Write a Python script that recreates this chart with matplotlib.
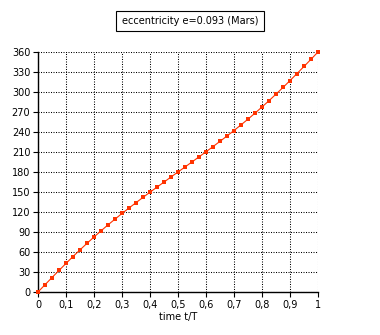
import matplotlib.pyplot as plt
from matplotlib.ticker import FuncFormatter

# time as fraction of the orbital period, true anomaly in degrees
t_frac = [0.0, 0.025, 0.05, 0.075, 0.1, 0.125, 0.15, 0.175, 0.2, 0.225,
          0.25, 0.275, 0.3, 0.325, 0.35, 0.375, 0.4, 0.425, 0.45, 0.475,
          0.5, 0.525, 0.55, 0.575, 0.6, 0.625, 0.65, 0.675, 0.7, 0.725,
          0.75, 0.775, 0.8, 0.825, 0.85, 0.875, 0.9, 0.925, 0.95, 0.975, 1.0]
anomaly_deg = [0.0, 10.9, 21.7, 32.3, 42.9, 53.2, 63.2, 73.0, 82.5, 91.7,
               100.7, 109.3, 117.8, 126.0, 134.0, 141.9, 149.7, 157.3, 164.9, 172.5,
               180.0, 187.5, 195.1, 202.7, 210.3, 218.1, 226.0, 234.0, 242.2, 250.7,
               259.3, 268.3, 277.5, 287.0, 296.8, 306.8, 317.1, 327.7, 338.3, 349.1, 360.0]
x_ticks = [0, 0.1, 0.2, 0.3, 0.4, 0.5, 0.6, 0.7, 0.8, 0.9, 1]
y_ticks = list(range(0, 361, 30))
title = "eccentricity e=0.093 (Mars)"

plt.rcParams["font.family"] = ["DejaVu Sans"]

fig = plt.figure(figsize=(3.8, 3.35), dpi=100)
ax = fig.add_axes([38 / 380, 43 / 335, 280 / 380, 240 / 335])

ax.plot(t_frac, anomaly_deg, color="#ff3300", linewidth=0.8,
        marker="s", markersize=2.3, markeredgewidth=0, zorder=3, clip_on=False)

ax.set_xlim(0, 1)
ax.set_ylim(0, 360)
ax.set_xticks(x_ticks)
ax.set_yticks(y_ticks)
ax.xaxis.set_major_formatter(FuncFormatter(lambda v, _: f"{v:g}".replace(".", ",")))
ax.tick_params(labelsize=7, length=3.5, width=0.8, direction="out", pad=2)
ax.grid(True, color="black", linestyle=(0, (1, 1.4)), linewidth=0.75)
for side in ("top", "right"):
    ax.spines[side].set_visible(False)
for side in ("left", "bottom"):
    ax.spines[side].set_linewidth(1.0)
ax.set_xlabel("time t/T", fontsize=7, labelpad=2)

fig.text(190 / 380, 1 - 21 / 335, title, fontsize=7, ha="center", va="center",
         bbox=dict(boxstyle="square,pad=0.55", facecolor="white", edgecolor="black", linewidth=0.8))

fig.savefig("out.png", dpi=100)
plt.close(fig)
